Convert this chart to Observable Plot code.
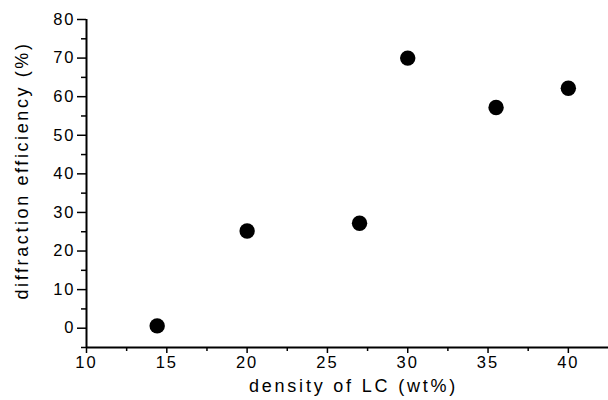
<!DOCTYPE html>
<html>
<head>
<meta charset="utf-8">
<script src="https://cdn.jsdelivr.net/npm/d3@7"></script>
<script src="https://cdn.jsdelivr.net/npm/@observablehq/plot@0.6"></script>
<style>
  html, body { margin: 0; padding: 0; background: #fff; }
  svg text { letter-spacing: 2px; }
  svg text.xlab { letter-spacing: 2.8px; }
  svg text.ylab { letter-spacing: 2.6px; }
</style>
</head>
<body>
<div id="chart"></div>
<script>
// Data
const density = [14.4, 20.0, 27.0, 30.0, 35.5, 40.0];
const efficiency = [0.6, 25.2, 27.2, 70.0, 57.2, 62.2];

const xMajorTicks = [10, 15, 20, 25, 30, 35, 40];
const xMinorTicks = [12.5, 17.5, 22.5, 27.5, 32.5, 37.5];
const yMajorTicks = [0, 10, 20, 30, 40, 50, 60, 70, 80];
const yMinorTicks = [-5, 5, 15, 25, 35, 45, 55, 65, 75];

const xLabel = "density of LC (wt%)";
const yLabel = "diffraction efficiency (%)";

const points = density.map((d, i) => ({x: d, y: efficiency[i]}));

const chart = Plot.plot({
  width: 608,
  height: 400,
  marginLeft: 86,
  marginRight: 0,
  marginTop: 19,
  marginBottom: 53,
  style: {
    fontFamily: "'Liberation Sans', Arial, sans-serif",
    fontSize: "16px",
    color: "#000",
    background: "#fff",
    overflow: "visible"
  },
  x: {domain: [10, 42.5]},
  y: {domain: [-5, 80]},
  marks: [
    Plot.axisX({ticks: xMajorTicks, tickSize: 6, tickPadding: 3, tickFormat: d => String(d), label: null, strokeWidth: 1.5, fontSize: 16.5}),
    Plot.axisX({ticks: xMinorTicks, tickSize: 4, tickFormat: () => "", label: null, strokeWidth: 1.5}),
    Plot.axisY({ticks: yMajorTicks, tickSize: 9, tickPadding: 2, tickFormat: d => String(d), label: null, strokeWidth: 1.5, fontSize: 16.5}),
    Plot.axisY({ticks: yMinorTicks, tickSize: 5, tickFormat: () => "", label: null, strokeWidth: 1.5}),
    Plot.ruleX([10], {stroke: "#000", strokeWidth: 2}),
    Plot.ruleY([-5], {stroke: "#000", strokeWidth: 2.2}),
    Plot.dot(points, {x: "x", y: "y", r: 7.7, fill: "#000", stroke: "none"}),
    Plot.text([xLabel], {frameAnchor: "bottom", textAnchor: "middle", dx: 6, dy: 44, fontSize: 18, fill: "#000", className: "xlab"}),
    Plot.text([yLabel], {frameAnchor: "left", textAnchor: "middle", rotate: -90, dx: -64, dy: -13, fontSize: 18, fill: "#000", className: "ylab"})
  ]
});

chart.querySelectorAll("g.xlab text").forEach(t => t.classList.add("xlab"));
chart.querySelectorAll("g.ylab text").forEach(t => t.classList.add("ylab"));
document.getElementById("chart").appendChild(chart);
</script>
</body>
</html>
